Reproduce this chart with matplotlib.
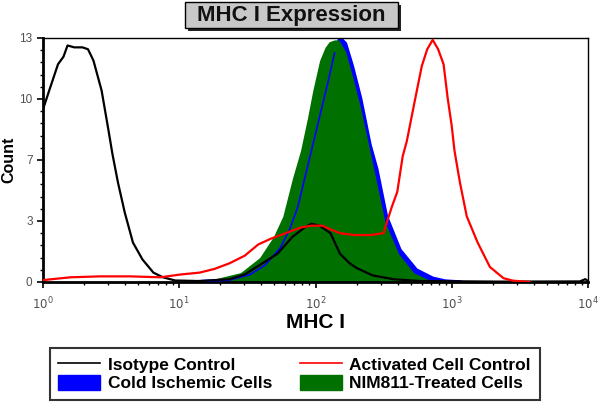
import matplotlib.pyplot as plt
import numpy as np
from matplotlib.lines import Line2D
from matplotlib.patches import Patch, Rectangle
from matplotlib.ticker import FixedLocator, LogLocator, NullFormatter

plt.rcParams['font.family'] = ['Liberation Sans', 'DejaVu Sans']

# log10 of MHC I intensity and counts
iso_logx = [0.00, 0.05, 0.11, 0.15, 0.18, 0.23, 0.29, 0.33, 0.37, 0.40, 0.43, 0.48, 0.51,
            0.55, 0.60, 0.66, 0.73, 0.81, 0.88, 0.97, 1.15, 1.37, 1.48, 1.59, 1.72, 1.83,
            1.92, 1.97, 2.03, 2.11, 2.18, 2.25, 2.30, 2.42, 2.57, 2.77, 3.35, 3.94, 3.98, 4.00]
iso_count = [9.2, 10.3, 11.6, 12.0, 12.6, 12.5, 12.5, 12.4, 11.8, 11.0, 10.2, 8.1, 6.8,
             5.3, 3.7, 2.1, 1.2, 0.5, 0.25, 0.08, 0.05, 0.15, 0.4, 0.9, 1.5, 2.4,
             2.9, 3.1, 3.0, 2.6, 1.5, 1.0, 0.75, 0.35, 0.15, 0.05, 0.02, 0.03, 0.15, 0.05]

cold_logx = [1.15, 1.37, 1.52, 1.63, 1.74, 1.81, 1.87, 1.92, 1.97, 2.03, 2.09, 2.14, 2.18,
             2.22, 2.27, 2.33, 2.40, 2.45, 2.52, 2.62, 2.74, 2.86, 2.95, 3.06]
cold_count = [0.02, 0.1, 0.4, 0.9, 1.8, 2.8, 4.0, 5.5, 7.0, 8.8, 10.6, 12.2, 13.0,
              12.7, 11.5, 9.8, 7.3, 6.0, 3.5, 1.7, 0.64, 0.2, 0.05, 0.0]

nim_logx = [1.15, 1.28, 1.45, 1.59, 1.69, 1.76, 1.83, 1.89, 1.94, 1.98, 2.03, 2.07, 2.10,
            2.14, 2.17, 2.22, 2.27, 2.33, 2.39, 2.44, 2.51, 2.61, 2.72, 2.83, 2.91]
nim_count = [0.03, 0.2, 0.5, 1.3, 2.4, 3.5, 5.5, 7.0, 8.7, 10.2, 11.8, 12.5, 12.8,
             12.9, 12.9, 12.3, 11.0, 9.3, 7.3, 5.6, 3.2, 1.5, 0.5, 0.12, 0.0]

act_logx = [0.00, 0.20, 0.42, 0.64, 0.86, 1.01, 1.15, 1.26, 1.37, 1.48, 1.58, 1.67, 1.78,
            1.89, 1.97, 2.05, 2.11, 2.18, 2.29, 2.40, 2.50, 2.52, 2.56, 2.60, 2.64, 2.67,
            2.73, 2.78, 2.82, 2.86, 2.90, 2.94, 2.97, 3.00, 3.02, 3.06, 3.11, 3.19, 3.28,
            3.38, 3.45, 3.57]
act_count = [0.1, 0.25, 0.3, 0.3, 0.25, 0.4, 0.5, 0.7, 1.0, 1.4, 2.0, 2.3, 2.6,
             2.9, 3.0, 3.0, 2.8, 2.6, 2.5, 2.5, 2.6, 3.1, 4.0, 4.8, 6.7, 7.5,
             9.7, 11.5, 12.4, 12.9, 12.4, 11.6, 9.8, 8.3, 7.0, 5.3, 3.5, 2.1, 0.8,
             0.2, 0.07, 0.0]

ytick_vals = [0, 3.25, 6.5, 9.75, 13]
ytick_labels = ['0', '3', '7', '10', '13']

fig = plt.figure(figsize=(6, 4.04), dpi=100)
ax = fig.add_axes([0.0717, 0.302, 0.9083, 0.604])

cold_x = 10 ** np.array(cold_logx)
nim_x = 10 ** np.array(nim_logx)
ax.fill_between(cold_x, cold_count, color='#0000ff', lw=0, zorder=1)
ax.plot(cold_x, cold_count, color='#0000ff', lw=2.5, zorder=1)
ax.fill_between(nim_x, nim_count, color='#007000', lw=0, zorder=2)
ax.plot(10 ** np.array(cold_logx[:12]), cold_count[:12], color='#0000ff', lw=1.2, zorder=3)
ax.plot(10 ** np.array(iso_logx), iso_count, color='black', lw=1.6, zorder=4)
ax.plot(10 ** np.array(act_logx), act_count, color='#ff0000', lw=1.6, zorder=5)

ax.set_xscale('log')
ax.set_xlim(1, 1e4)
ax.set_ylim(0, 13)
ax.xaxis.set_major_locator(FixedLocator([1, 10, 100, 1000, 10000]))
ax.set_xticklabels(['$10^{0}$', '$10^{1}$', '$10^{2}$', '$10^{3}$', '$10^{4}$'])
ax.xaxis.set_minor_locator(LogLocator(base=10, subs=np.arange(2, 10)))
ax.xaxis.set_minor_formatter(NullFormatter())
ax.set_yticks(ytick_vals)
ax.set_yticklabels(ytick_labels)
ax.yaxis.set_minor_locator(FixedLocator(np.arange(0, 13.01, 0.65)))
ax.tick_params(axis='both', which='major', length=4, width=1.2, labelsize=8.5,
               labelcolor='#505050', direction='out')
ax.tick_params(axis='both', which='minor', length=2.5, width=1, direction='out')
ax.tick_params(axis='x', pad=6)

for side in ['left', 'bottom']:
    ax.spines[side].set_linewidth(2)
for side in ['top', 'right']:
    ax.spines[side].set_linewidth(1)

ax.set_xlabel('MHC I', fontsize=15, fontweight='bold')
ax.xaxis.set_label_coords(0.5, -0.128)
ax.set_ylabel('Count', fontsize=11.5, fontweight='bold', va='center')
ax.yaxis.set_label_coords(-0.063, 0.5)

# title box with drop shadow
fig.patches.append(Rectangle((0.313, 0.924), 0.355, 0.064, transform=fig.transFigure,
                             fc='#222222', ec='none', zorder=1))
fig.patches.append(Rectangle((0.308, 0.931), 0.355, 0.064, transform=fig.transFigure,
                             fc='#c8c8c8', ec='black', lw=1, zorder=2))
fig.text(0.4855, 0.962, 'MHC I Expression', fontsize=16, fontweight='bold', color='#111111',
         ha='center', va='center', zorder=3)

handles = [Line2D([], [], color='black', lw=1.2),
           Patch(color='#0000ff'),
           Line2D([], [], color='#ff0000', lw=1.2),
           Patch(color='#007000')]
labels = ['Isotype Control', 'Cold Ischemic Cells', 'Activated Cell Control', 'NIM811-Treated Cells']
leg = fig.legend(handles, labels, ncol=2, loc='center', bbox_to_anchor=(0.491, 0.074),
                 frameon=True, fancybox=False, shadow=False, edgecolor='black',
                 prop={'weight': 'bold', 'size': 12.5}, handlelength=2.4, handleheight=0.9,
                 columnspacing=1.6, handletextpad=0.45, labelspacing=0.12,
                 borderpad=0.5, borderaxespad=0)
leg.get_frame().set_linewidth(1.5)

fig.savefig('out.png', dpi=100)
